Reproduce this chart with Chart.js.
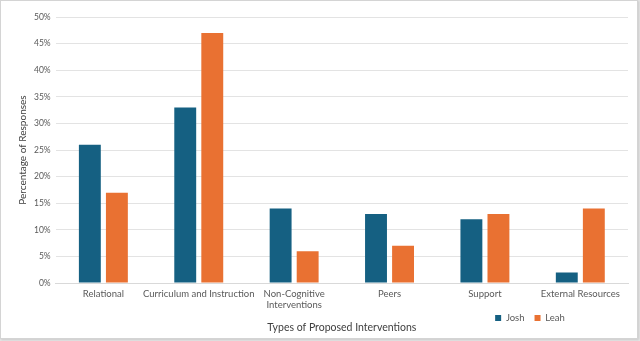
<!DOCTYPE html>
<html>
<head>
<meta charset="utf-8">
<script src="https://cdn.jsdelivr.net/npm/chart.js@4"></script>
<style>
  html, body { margin: 0; padding: 0; background: #e6e6e6; }
  #wrap {
    position: absolute; left: 0; top: 0;
    width: 636px; height: 337px;
    background: #fff;
    border: 1px solid #d4d4d4;
    box-shadow: 1px 1px 2px rgba(0,0,0,0.12);
  }
  canvas { display: block; }
</style>
</head>
<body>
<div id="wrap"><canvas id="chart" width="636" height="337"></canvas></div>
<script>
// Dados do gráfico
const categories = [
  "Relational",
  "Curriculum and Instruction",
  ["Non-Cognitive", "Interventions"],
  "Peers",
  "Support",
  "External Resources"
];
const josh = [26, 33, 14, 13, 12, 2];
const leah = [17, 47, 6, 7, 13, 14];
const yTicks = [0, 5, 10, 15, 20, 25, 30, 35, 40, 45, 50];

const fontFamily = "Lato, 'Liberation Sans', sans-serif";

// Coloca a legenda ao lado do título do eixo x, como no original
const legendPlace = {
  id: "legendPlace",
  afterLayout(chart) {
    const lg = chart.legend;
    const h = lg.height;
    lg.top = 317 - h / 2;
    lg.bottom = lg.top + h;
    lg.left = 469;
    lg.right = 589;
    lg.width = lg.right - lg.left;
  }
};

const ctx = document.getElementById("chart").getContext("2d");

new Chart(ctx, {
  type: "bar",
  data: {
    labels: categories,
    datasets: [
      {
        label: "Josh",
        data: josh,
        backgroundColor: "#156082",
        categoryPercentage: 0.567,
        barPercentage: 0.81
      },
      {
        label: "Leah",
        data: leah,
        backgroundColor: "#E97132",
        categoryPercentage: 0.567,
        barPercentage: 0.81
      }
    ]
  },
  options: {
    responsive: false,
    animation: false,
    layout: {
      padding: { left: 16, right: 9, top: 16, bottom: -25 }
    },
    scales: {
      x: {
        grid: { display: false, drawTicks: false },
        border: { color: "#d9d9d9" },
        ticks: {
          color: "#595959",
          font: { family: fontFamily, size: 9.5 },
          padding: 5,
          maxRotation: 0,
          autoSkip: false
        },
        title: {
          display: true,
          text: "Types of Proposed Interventions",
          color: "#404040",
          font: { family: fontFamily, size: 10.5 },
          padding: { top: 5, bottom: 0 }
        }
      },
      y: {
        min: 0,
        max: 50,
        afterBuildTicks(axis) {
          axis.ticks = yTicks.map((v) => ({ value: v }));
        },
        grid: { color: "#e3e3e3", drawTicks: false },
        border: { display: false },
        ticks: {
          color: "#595959",
          font: { family: fontFamily, size: 8.5 },
          padding: 5,
          callback: (v) => v + "%"
        },
        title: {
          display: true,
          text: "Percentage of Responses",
          color: "#404040",
          font: { family: fontFamily, size: 10 },
          padding: { top: 0, bottom: 0 }
        }
      }
    },
    plugins: {
      legend: {
        position: "bottom",
        align: "center",
        labels: {
          color: "#595959",
          font: { family: fontFamily, size: 9.5 },
          boxWidth: 6,
          boxHeight: 6,
          padding: 10
        }
      },
      tooltip: { enabled: false }
    }
  },
  plugins: [legendPlace]
});
</script>
</body>
</html>
